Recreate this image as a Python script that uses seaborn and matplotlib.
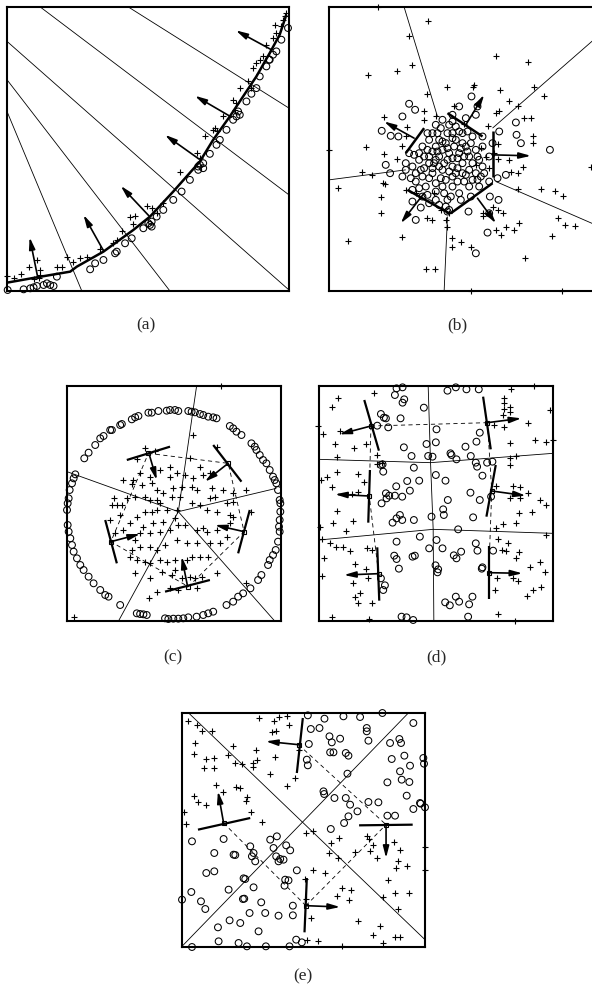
import numpy as np
import seaborn as sns
import matplotlib
matplotlib.use("Agg")
import matplotlib.pyplot as plt

sns.set_style("white")
plt.rcParams['font.family'] = ['Liberation Serif', 'DejaVu Serif']

# ---------------- panel (a): points along a curve ----------------
a_plus = [(20,828),(40,835),(62,822),(85,800),(110,780),(120,810),(115,835),(100,838),(170,800),
          (185,800),(200,770),(218,785),(240,775),(260,772),(300,748),(340,728),(365,692),(390,650),
          (405,648),(400,672),(440,618),(455,625),(470,640),(490,608),(540,515),(590,460),(600,475),
          (615,410),(640,390),(650,395),(670,350),(700,300),(710,310),(720,265),(745,245),(755,265),
          (760,205),(770,190),(780,180),(790,170),(800,135),(820,115),(830,100),(845,80),(855,50),
          (860,40),(850,60),(825,75),(120,825),(350,720),(645,385),(705,330)]
a_circ = [(22,870),(70,868),(90,865),(110,858),(130,855),(150,855),(160,858),(170,830),(270,808),
          (285,790),(310,780),(345,760),(350,755),(375,730),(395,715),(430,685),(450,675),(455,665),
          (470,650),(490,630),(520,600),(545,575),(570,540),(595,510),(600,495),(610,490),(630,462),
          (650,435),(660,420),(680,390),(700,360),(710,350),(715,335),(740,305),(755,282),(770,265),
          (780,230),(800,200),(810,180),(820,165),(830,155),(845,120),(865,85),(808,180),(595,500),
          (610,505),(100,862),(140,850),(455,680),(445,670),(720,345)]
a_curve = [(20,848),(110,832),(210,815),(230,800),(310,755),(400,690),(450,650),(520,575),(560,530),
           (600,485),(640,420),(690,350),(730,290),(770,230),(810,160),(840,105),(860,45)]
a_arrows = [((112,830),(88,712)),((310,752),(250,645)),((447,648),(362,558)),
            ((598,478),(495,405)),((695,352),(585,288)),((815,150),(708,92))]
a_thin = [((385,22),(868,325)),((120,22),(868,585)),((20,125),(868,870)),
          ((20,240),(510,873)),((20,335),(245,873))]

# ---------------- panel (b): central blob ----------------
b_plus = [(248,22),(398,63),(340,110),(218,225),(305,213),(350,197),(600,170),(695,188),(455,262),
          (530,262),(535,257),(612,272),(715,262),(745,288),(640,303),(665,320),(476,318),(393,282),
          (265,352),(335,382),(385,335),(385,360),(420,350),(600,340),(610,335),(685,355),(705,355),
          (710,410),(710,430),(575,380),(505,372),(210,442),(100,450),(265,462),(305,478),(318,438),
          (330,408),(605,432),(595,460),(605,478),(640,480),(645,515),(665,518),(680,500),(200,515),
          (230,525),(262,548),(268,553),(128,565),(255,592),(255,638),(320,712),(158,722),(330,570),
          (360,580),(415,578),(435,630),(395,655),(410,660),(450,660),(460,640),(455,680),(470,715),
          (470,740),(495,725),(525,742),(560,640),(560,648),(590,620),(605,630),(620,640),(600,690),
          (615,705),(630,680),(655,690),(670,668),(665,568),(735,568),(778,572),(800,588),(785,655),
          (808,675),(838,678),(768,708),(688,775),(392,808),(418,808),(525,873),(798,873),(885,500),
          (540,495),(555,445),(570,470),(580,505)]
b_circ = [(340,312),(358,330),(320,350),(258,393),(285,408),(308,410),(490,320),(527,290),(545,320),
          (540,345),(470,345),(440,360),(460,375),(420,375),(410,400),(400,420),(380,440),(420,440),
          (450,430),(480,420),(500,400),(530,410),(510,440),(540,450),(560,440),(490,460),(460,460),
          (430,470),(400,470),(370,480),(350,500),(330,510),(360,520),(380,530),(410,520),(440,510),
          (470,500),(500,490),(520,510),(540,520),(560,500),(580,470),(590,430),(610,395),(660,368),
          (662,405),(675,430),(762,450),(470,530),(450,540),(420,550),(390,560),(360,545),(350,570),
          (380,590),(420,600),(455,600),(490,580),(520,560),(550,560),(580,545),(605,535),(630,525),
          (582,590),(608,600),(580,640),(575,698),(540,760),(518,635),(460,630),(350,605),(375,623),
          (360,660),(270,495),(283,520),(320,530),(485,545),(500,520),(430,420),(470,400),(500,430),
          (445,490),(415,490),(395,450),(370,460),(440,450),(560,410),(510,355),(480,380),(520,470),
          (550,480),(440,560),(400,610),(455,635),
          (435,385),(455,400),(475,440),(495,445),(525,430),(545,470),(515,455),(485,475),(455,480),
          (425,455),(400,490),(385,505),(410,505),(430,500),(460,515),(485,505),(505,470),(530,490),
          (555,530),(530,540),(505,545),(470,560),(445,580),(420,575),(395,585),(370,565),(345,535),
          (330,490),(355,465),(385,470),(410,455),(440,425),(470,415),(490,395),(515,395),(455,445),
          (470,475),(435,535),(465,590),(495,600),(525,590),(545,540),(565,520),(400,535),(375,510),
          (420,480),(480,520),(510,525),(450,620),(430,615),(340,460),(395,400),(425,400),(470,365)]
b_thick = [((330,460),(385,385)),((455,340),(560,410)),((590,395),(590,530)),
           ((465,640),(590,550)),((335,570),(460,640))]
b_arrows = [((355,415),(265,365)),((510,375),(565,285)),((590,465),(705,468)),
            ((545,595),(600,670)),((385,580),(315,670))]
b_thin = [((325,22),(425,350)),((945,75),(590,385)),((600,545),(945,695)),
          ((455,650),(445,873)),((100,540),(330,510))]

# ---------------- panel (c): ring ----------------
c_circ = [(72,385),(85,368),(105,345),(120,325),(130,318),(150,300),(155,300),(180,285),(185,282),
          (215,268),(225,262),(235,258),(265,248),(275,248),(295,243),(320,242),(330,240),(345,240),
          (355,243),(385,243),(395,245),(405,247),(420,252),(430,255),(445,260),(460,262),(470,265),
          (510,288),(520,295),(530,305),(545,315),(575,340),(585,350),(590,360),(600,375),(610,390),
          (620,400),(630,420),(640,440),(645,450),(650,460),(655,480),(660,510),(662,520),(662,545),
          (660,570),(658,590),(660,605),(655,635),(648,660),(640,675),(630,690),(625,705),(605,735),
          (595,750),(572,775),(550,790),(535,800),(520,815),(500,825),(460,845),(445,850),(430,855),
          (410,860),(385,862),(370,865),(355,866),(340,866),(325,867),(315,865),(260,855),(250,853),
          (240,852),(230,850),(180,825),(145,800),(135,795),(120,780),(100,760),(85,740),(70,720),
          (60,705),(50,685),(40,665),(35,645),(30,625),(25,605),(22,585),(20,540),(22,520),(25,505),
          (28,480),(35,460),(40,445),(45,433)]
c_plus = [(482,168),(400,315),(255,355),(285,362),(470,350),(230,388),(390,383),(330,410),(300,420),
          (420,410),(450,430),(430,435),(240,430),(270,440),(220,450),(190,450),(215,462),(245,465),
          (275,460),(330,440),(350,430),(375,435),(400,445),(290,480),(310,490),(340,475),(365,470),
          (395,470),(410,480),(455,475),(490,480),(520,490),(560,480),(450,505),(465,500),(500,520),
          (520,515),(160,505),(155,525),(170,525),(185,525),(200,505),(225,500),(255,500),(270,510),
          (290,510),(300,520),(335,500),(360,500),(395,520),(420,525),(440,540),(470,545),(510,555),
          (575,545),(180,555),(150,570),(230,560),(255,545),(275,545),(290,540),(320,540),(350,540),
          (345,565),(310,575),(280,580),(250,590),(210,580),(190,600),(165,610),(225,630),(240,610),
          (270,610),(300,605),(330,600),(355,585),(375,585),(410,600),(430,595),(440,605),(470,600),
          (510,580),(520,560),(500,620),(480,640),(450,640),(410,640),(380,640),(350,630),(315,645),
          (290,660),(270,650),(240,650),(215,660),(210,680),(230,690),(255,695),(270,700),(300,690),
          (320,695),(345,690),(380,690),(395,680),(420,680),(445,680),(470,730),(345,720),(335,735),
          (305,725),(225,730),(270,745),(365,745),(390,740),(405,745),(425,740),(330,775),(290,785),
          (355,780),(410,775),(268,805),(560,760),(40,860)]
c_nodes = [(265,370),(505,400),(553,605),(385,770),(152,635)]
c_thick = [((200,390),(330,350)),((460,345),(545,455)),((570,540),(535,670)),
           ((315,785),(450,750)),((135,570),(170,700))]
c_arrows = [((268,375),(290,450)),((505,400),(435,455)),((553,605),(465,585)),
            ((383,770),(365,680)),((152,635),(240,612))]
c_thin = [((355,545),(410,168)),((355,545),(20,425)),((355,545),(175,873)),
          ((355,545),(645,873)),((355,545),(650,475))]
c_dashed = [(265,370),(505,400),(553,605),(385,770),(152,635),(265,370)]

# ---------------- panel (d): 2x3 grid ----------------
d_circ = [(290,175),(308,172),(285,195),(313,208),(308,218),(372,233),(243,252),(252,263),(258,265),
          (302,265),(232,287),(265,292),(312,352),(335,378),(380,342),(385,378),(398,380),(408,337),
          (410,298),(443,182),(468,172),(500,178),(537,178),(540,308),(530,335),(497,350),(452,370),
          (455,375),(470,388),(513,378),(528,398),(532,410),(562,398),(578,395),(548,437),(243,405),
          (248,403),(250,425),(342,413),(408,435),(437,452),(358,452),(322,453),(289,469),(330,482),
          (258,490),(268,497),(285,497),(307,500),(260,505),(245,520),(512,488),(540,510),(574,500),
          (520,562),(444,510),(430,538),(432,555),(395,560),(342,570),(300,555),(290,565),(278,578),
          (307,570),(475,598),(290,635),(360,620),(410,630),(388,655),(428,655),(283,677),(290,687),
          (338,680),(345,677),(462,676),(470,685),(484,665),(528,640),(533,662),(580,662),(297,716),
          (407,706),(415,718),(413,727),(548,712),(546,716),(243,745),(255,766),(250,780),(468,800),
          (436,817),(450,826),(478,815),(518,800),(508,823),(305,860),(320,862),(340,870),(505,860)]
d_plus = [(222,188),(113,203),(95,230),(70,312),(120,302),(105,343),(162,353),(198,343),(110,380),
          (230,375),(230,403),(245,400),(62,450),(82,440),(110,425),(175,432),(193,455),(95,472),
          (175,487),(155,493),(110,543),(100,578),(158,573),(137,602),(60,590),(67,628),(90,640),
          (108,652),(128,652),(150,662),(200,655),(215,660),(72,683),(165,702),(197,716),(205,744),
          (65,738),(160,760),(180,790),(165,800),(173,818),(215,818),(97,860),(208,867),(612,205),
          (612,220),(630,230),(612,238),(632,245),(610,255),(583,285),(612,292),(685,280),(752,240),
          (705,330),(740,335),(760,330),(632,340),(650,378),(630,385),(630,405),(590,468),(640,468),
          (662,470),(685,490),(660,505),(632,505),(720,510),(740,525),(658,548),(697,547),(610,582),
          (590,593),(650,580),(740,615),(595,628),(625,638),(608,660),(618,662),(658,665),(648,685),
          (720,695),(690,712),(735,725),(640,745),(655,752),(593,745),(585,780),(725,772),(700,780),
          (682,797),(595,852),(645,873),(703,168),(635,178),(55,287)]
d_nodes = [(213,288),(563,278),(208,498),(576,483),(236,731),(567,728)]
d_thick = [((193,210),(237,362)),((550,200),(573,358)),((210,420),(205,578)),
           ((588,405),(560,560)),((232,652),(238,812)),((567,648),(567,808))]
d_arrows = [((213,288),(118,313)),((563,278),(665,265)),((208,498),(105,493)),
            ((576,483),(678,497)),((236,731),(132,735)),((567,728),(668,730))]
d_thin = [[(385,168),(392,395),(400,598),(402,873)],
          [(57,388),(392,398),(760,370)],
          [(57,630),(400,598),(760,610)]]
d_dashed = [[(213,288),(563,278)],[(213,288),(208,498),(236,731)],[(563,278),(576,483),(567,728)]]

# ---------------- panel (e): XOR quadrants ----------------
e_plus = [(52,185),(80,195),(95,215),(125,215),(265,175),(310,185),(325,172),(350,170),(355,195),
          (305,218),(318,215),(75,250),(70,283),(107,297),(130,295),(130,325),(100,325),(188,260),
          (172,285),(195,310),(215,313),(247,310),(258,272),(260,300),(248,322),(315,292),(298,342),
          (350,380),(375,355),(385,270),(138,375),(158,398),(198,382),(208,385),(230,412),(228,425),
          (70,410),(82,428),(108,435),(42,458),(47,493),(243,458),(275,487),(408,520),(430,515),
          (483,550),(508,535),(478,580),(505,595),(590,528),(598,537),(610,555),(600,575),(555,578),
          (620,595),(672,548),(690,570),(685,605),(678,625),(710,620),(765,562),(765,632),(655,662),
          (430,630),(405,658),(465,640),(517,685),(543,690),(500,708),(537,720),(408,718),(422,775),
          (565,785),(630,798),(608,825),(675,832),(690,832),(638,850),(685,748),(638,712),(718,700),
          (675,700),(410,840),(445,843),(515,860)]
e_circ = [(413,167),(463,177),(520,170),(570,172),(637,160),(730,190),(590,205),(590,215),(595,243),
          (422,208),(448,205),(478,230),(485,248),(510,237),(416,253),(480,278),(490,278),(527,280),
          (535,288),(660,250),(688,238),(693,250),(665,298),(703,288),(720,318),(760,295),(762,312),
          (410,300),(413,317),(690,335),(532,342),(695,360),(718,367),(652,368),(460,395),(462,403),
          (493,415),(527,415),(540,435),(595,427),(625,428),(710,408),(750,430),(752,432),(730,448),
          (765,443),(562,455),(535,470),(522,490),(482,508),(652,468),(675,468),(65,545),(160,538),
          (132,580),(190,585),(195,586),(240,560),(250,580),(245,590),(255,605),(300,540),(320,530),
          (310,565),(348,557),(360,572),(318,590),(330,598),(340,600),(325,605),(108,640),(132,635),
          (220,656),(225,658),(345,660),(355,662),(343,678),(380,632),(175,690),(250,683),(63,697),
          (35,720),(92,725),(105,748),(218,718),(222,717),(273,728),(238,760),(285,760),(325,768),
          (368,738),(368,767),(178,782),(210,790),(143,803),(265,815),(145,845),(205,850),(230,860),
          (287,860),(358,860),(378,840),(395,848),(65,862)]
e_nodes = [(385,255),(160,490),(648,495),(407,738)]
e_thick = [((398,175),(380,340)),((83,510),(240,475)),((567,497),(728,495)),((410,655),(403,818))]
e_arrows = [((385,255),(287,245)),((160,490),(143,395)),((648,495),(648,595)),((407,738),(510,742))]
e_thin = [[(55,160),(765,840)],[(35,860),(715,160)]]
e_dashed = [[(385,255),(648,495)],[(160,490),(407,738)],[(407,738),(648,495)]]

labels = ["(a)", "(b)", "(c)", "(d)", "(e)"]

W, H = 592, 992
fig = plt.figure(figsize=(W / 100, H / 100), dpi=100)


def make_ax(px_left, px_top, px_right, px_bottom, xlim, ylim):
    ax = fig.add_axes([px_left / W, 1 - px_bottom / H, (px_right - px_left) / W, (px_bottom - px_top) / H])
    ax.set_xlim(*xlim)
    ax.set_ylim(*ylim)   # y given top-down, so axis is inverted
    ax.set_xticks([])
    ax.set_yticks([])
    for s in ax.spines.values():
        s.set_linewidth(1.5)
        s.set_color("k")
    return ax


def seg(ax, pts, **kw):
    p = np.array(pts)
    ax.plot(p[:, 0], p[:, 1], color="k", solid_capstyle="butt", **kw)


def points(ax, plus, circ):
    p = np.array(plus)
    c = np.array(circ)
    sns.scatterplot(x=c[:, 0], y=c[:, 1], ax=ax, marker="o", s=24, color="none",
                    edgecolor="k", linewidth=0.75, zorder=3, clip_on=False)
    sns.scatterplot(x=p[:, 0], y=p[:, 1], ax=ax, marker="+", s=24, color="k",
                    linewidth=0.8, zorder=3, clip_on=False)


def arrows(ax, arr, lw=1.2):
    for base, tip in arr:
        ax.annotate("", xy=tip, xytext=base,
                    arrowprops=dict(arrowstyle="-|>,head_length=0.7,head_width=0.18",
                                    lw=lw, color="k", shrinkA=0, shrinkB=0), zorder=4)


# (a)
ax = make_ax(7, 7, 289, 291, (20, 868), (873, 22))
for l in a_thin:
    seg(ax, l, lw=0.6)
points(ax, a_plus, a_circ)
seg(ax, a_curve, lw=1.8)
arrows(ax, a_arrows)

# (b)
ax = make_ax(329, 7, 611, 291, (100, 945), (873, 22))
for l in b_thin:
    seg(ax, l, lw=0.6)
points(ax, b_plus, b_circ)
for l in b_thick:
    seg(ax, l, lw=1.8)
arrows(ax, b_arrows)

# (c)
ax = make_ax(67, 386, 281, 621, (20, 664), (873, 168))
for l in c_thin:
    seg(ax, l, lw=0.6)
seg(ax, c_dashed, lw=0.6, ls=(0, (5, 4)))
points(ax, c_plus, c_circ)
for l in c_thick:
    seg(ax, l, lw=1.6)
arrows(ax, c_arrows)
n = np.array(c_nodes)
ax.plot(n[:, 0], n[:, 1], "s", ms=3.5, mfc="none", mec="k", mew=0.8, ls="none")

# (d)
ax = make_ax(319, 386, 553, 621, (57, 760), (873, 168))
for l in d_thin:
    seg(ax, l, lw=0.6)
for l in d_dashed:
    seg(ax, l, lw=0.6, ls=(0, (5, 4)))
points(ax, d_plus, d_circ)
for l in d_thick:
    seg(ax, l, lw=1.6)
arrows(ax, d_arrows)
n = np.array(d_nodes)
ax.plot(n[:, 0], n[:, 1], "s", ms=3.5, mfc="none", mec="k", mew=0.8, ls="none")

# (e)
ax = make_ax(182, 713, 425, 947, (35, 765), (862, 160))
for l in e_thin:
    seg(ax, l, lw=0.6)
for l in e_dashed:
    seg(ax, l, lw=0.6, ls=(0, (5, 4)))
points(ax, e_plus, e_circ)
for l in e_thick:
    seg(ax, l, lw=1.6)
arrows(ax, e_arrows)
n = np.array(e_nodes)
ax.plot(n[:, 0], n[:, 1], "s", ms=3.5, mfc="none", mec="k", mew=0.8, ls="none")

label_pos = [(146, 325), (457, 325), (173, 657), (436, 657), (303, 976)]
for txt, (x, y) in zip(labels, label_pos):
    fig.text(x / W, 1 - y / H, txt, ha="center", va="center", fontsize=12.5)

fig.savefig("out.png", dpi=100)
